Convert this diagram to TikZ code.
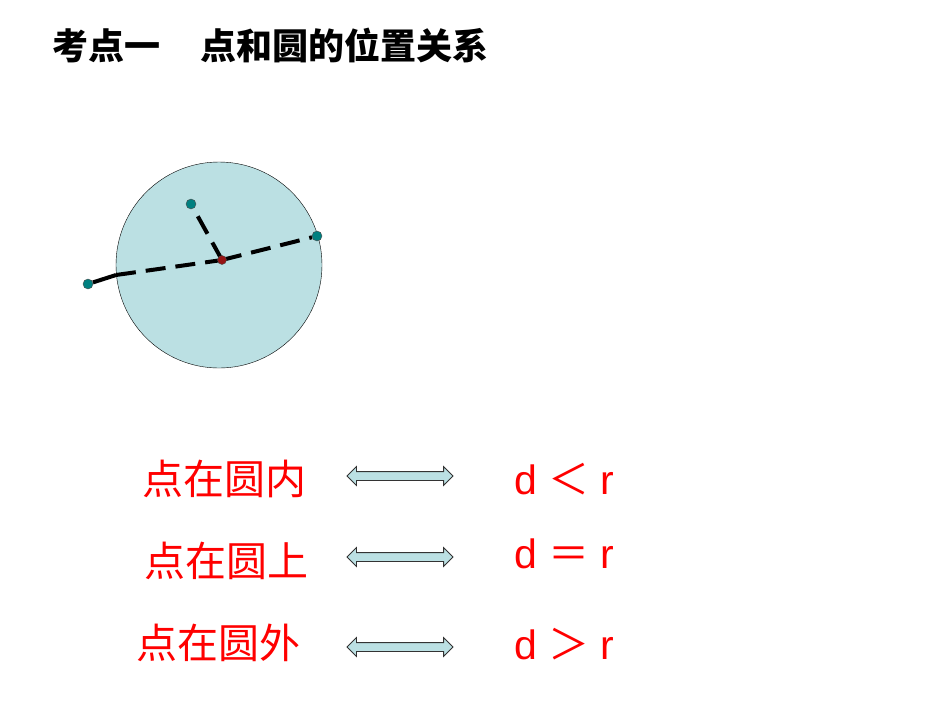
\documentclass[tikz,border=0pt]{standalone}
\usepackage{fontspec}
\setmainfont{Liberation Sans}
\newfontfamily\cjk{Noto Sans CJK SC}
\usetikzlibrary{shapes.arrows}
\definecolor{fillc}{RGB}{187,224,227}
\definecolor{ptc}{RGB}{0,128,128}
\definecolor{ctr}{RGB}{150,20,20}
\tikzset{
 lab/.style={text=red,font=\cjk\fontsize{41}{44}\selectfont,inner sep=0},
 rel/.style={text=red,font=\fontsize{41}{44}\selectfont,inner sep=0,anchor=west},
 darr/.style={double arrow,draw=black!80,fill=fillc,minimum height=106pt,inner xsep=0pt,inner ysep=4pt,double arrow head extend=5pt,double arrow head indent=0pt,line width=0.8pt},
 pt/.style={circle,draw=black!70,fill=ptc,minimum size=10pt,inner sep=0},
 dash5/.style={line width=4pt,dash pattern=on 20pt off 10pt}
}
\begin{document}
\begin{tikzpicture}[x=1pt,y=-1pt]
\useasboundingbox (0,0) rectangle (950,713);
\node[anchor=west,inner sep=0,font=\cjk\bfseries\fontsize{36}{40}\selectfont] (title) at (52,45) {考点一\hspace{40pt}点和圆的位置关系};
\node[circle,draw=black,fill=fillc,minimum size=206pt,inner sep=0] (circ) at (219,265) {};
\coordinate (O) at (222,260);
\node[pt] (A) at (191,204) {};
\node[pt] (B) at (317,236) {};
\node[pt] (C) at (88,284) {};
\draw[line width=4pt] (C) -- (116,275);
\draw[dash5,dash phase=0pt] (116,275) -- (O);
\draw[dash5] (O) -- (B);
\draw[dash5] (O) -- (A);
\node[circle,draw=black!70,fill=ctr,minimum size=9pt,inner sep=0] (Op) at (O) {};
\node[lab] (l1) at (224,479) {点在圆内};
\node[lab] (l2) at (226,561) {点在圆上};
\node[lab] (l3) at (218,643) {点在圆外};
\node[darr] (a1) at (400,476) {};
\node[darr] (a2) at (400,557) {};
\node[darr] (a3) at (400,647) {};
\node[rel] (r1) at (514,479) {d {\cjk ＜} r};
\node[rel] (r2) at (514,554) {d {\cjk ＝} r};
\node[rel] (r3) at (514,644) {d {\cjk ＞} r};
\end{tikzpicture}
\end{document}
